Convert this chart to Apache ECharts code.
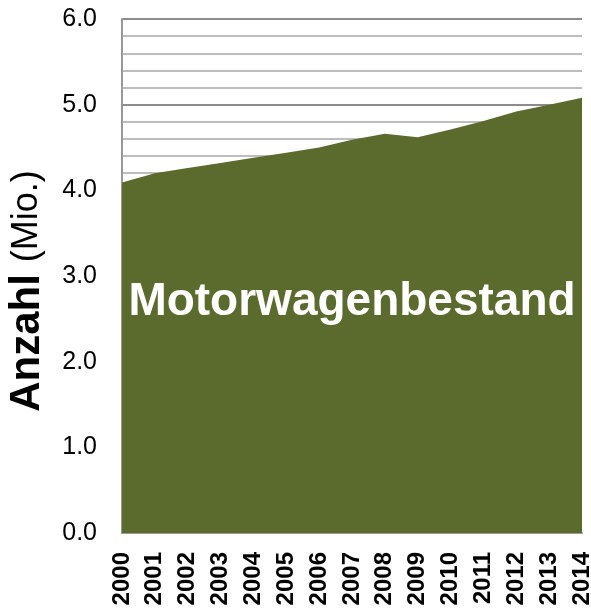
<!DOCTYPE html>
<html lang="de">
<head>
<meta charset="UTF-8">
<title>Motorwagenbestand</title>
<script src="https://cdn.jsdelivr.net/npm/echarts@6/dist/echarts.min.js"></script>
<style>
  html,body{margin:0;height:100%;background:#fff;}
  #chart{width:591px;height:611px;}
</style>
</head>
<body>
<div id="chart"></div>
<script>
const years = ['2000','2001','2002','2003','2004','2005','2006','2007','2008','2009','2010','2011','2012','2013','2014'];
const bestand = [4.09,4.20,4.26,4.32,4.38,4.44,4.50,4.59,4.66,4.62,4.71,4.81,4.92,5.00,5.08];

const font = '"Liberation Sans",Arial,Helvetica,sans-serif';
const chart = echarts.init(document.getElementById('chart'));

chart.setOption({
  animation:false,
  grid:{left:122,right:9,top:19,bottom:78,containLabel:false,outerBoundsMode:'none'},
  xAxis:{
    type:'category',
    data:years,
    boundaryGap:false,
    axisLine:{lineStyle:{color:'#999',width:2}},
    axisTick:{show:false},
    axisLabel:{rotate:90,color:'#000',fontFamily:font,fontWeight:'bold',fontSize:24,margin:19,interval:0,hideOverlap:false}
  },
  yAxis:{
    type:'value',
    min:0,max:6,interval:1,
    axisLine:{show:true,lineStyle:{color:'#999',width:2}},
    axisTick:{show:false},
    axisLabel:{color:'#000',fontFamily:font,fontSize:25,margin:25,formatter:v=>v.toFixed(1)},
    splitLine:{lineStyle:{color:'#8c8c8c',width:2}},
    minorTick:{show:false,splitNumber:5},
    minorSplitLine:{show:true,lineStyle:{color:'#bdbdbd',width:2}},
    name:'{b|Anzahl}{n|(Mio.)}',
    nameLocation:'middle',
    nameRotate:90,
    nameGap:74,
    nameTextStyle:{
      padding:[0,30,0,0],
      rich:{
        b:{fontFamily:font,fontWeight:'bold',fontSize:42,color:'#000',padding:[0,12,0,0]},
        n:{fontFamily:font,fontSize:36,color:'#000'}
      }
    }
  },
  series:[{
    name:'Motorwagenbestand',
    type:'line',
    data:bestand,
    symbol:'none',
    lineStyle:{width:0},
    areaStyle:{color:'#5b6b2e',opacity:1}
  }],
  graphic:[{
    type:'text',
    x:352,
    y:302,
    z:100,
    style:{text:'Motorwagenbestand',fill:'#fff',font:'bold 46px '+font,textAlign:'center',textVerticalAlign:'middle'}
  }]
});
</script>
</body>
</html>
